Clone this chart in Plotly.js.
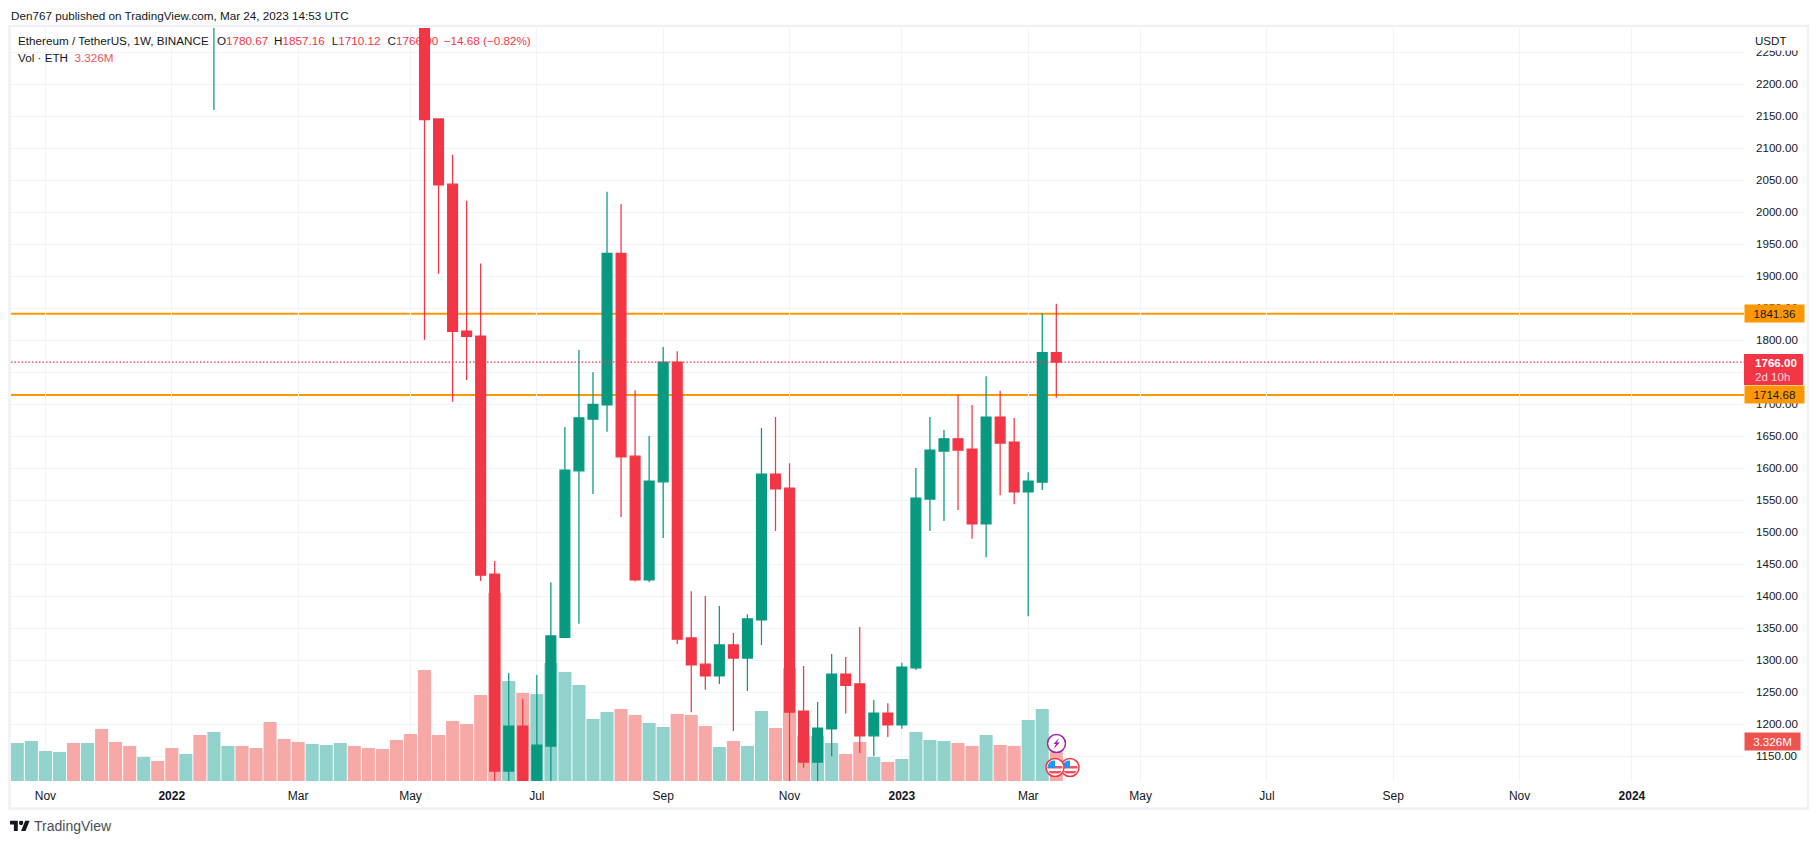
<!DOCTYPE html>
<html>
<head>
<meta charset="utf-8">
<script src="https://cdn.plot.ly/plotly-3.0.1.min.js"></script>
<style>html,body{margin:0;padding:0;background:#fff}#chart{width:1818px;height:844px}</style>
</head>
<body>
<div id="chart"></div>
<script>
// ---------- data ----------
const volumeDates = ["2021-10-18","2021-10-25","2021-11-01","2021-11-08","2021-11-15","2021-11-22","2021-11-29","2021-12-06","2021-12-13","2021-12-20","2021-12-27","2022-01-03","2022-01-10","2022-01-17","2022-01-24","2022-01-31","2022-02-07","2022-02-14","2022-02-21","2022-02-28","2022-03-07","2022-03-14","2022-03-21","2022-03-28","2022-04-04","2022-04-11","2022-04-18","2022-04-25","2022-05-02","2022-05-09","2022-05-16","2022-05-23","2022-05-30","2022-06-06","2022-06-13","2022-06-20","2022-06-27","2022-07-04","2022-07-11","2022-07-18","2022-07-25","2022-08-01","2022-08-08","2022-08-15","2022-08-22","2022-08-29","2022-09-05","2022-09-12","2022-09-19","2022-09-26","2022-10-03","2022-10-10","2022-10-17","2022-10-24","2022-10-31","2022-11-07","2022-11-14","2022-11-21","2022-11-28","2022-12-05","2022-12-12","2022-12-19","2022-12-26","2023-01-02","2023-01-09","2023-01-16","2023-01-23","2023-01-30","2023-02-06","2023-02-13","2023-02-20","2023-02-27","2023-03-06","2023-03-13","2023-03-20"];
const volumeValues = [3.24,3.41,2.56,2.47,3.24,3.24,4.44,3.33,2.99,2.05,1.71,2.81,2.30,3.92,4.18,2.99,2.99,2.81,5.03,3.58,3.33,3.16,3.07,3.24,2.99,2.81,2.73,3.50,4.01,9.47,3.92,5.12,4.86,7.34,16.03,8.53,7.51,7.42,10.07,9.30,8.19,5.29,5.89,6.14,5.63,4.95,4.61,5.71,5.63,4.69,2.90,3.41,2.99,5.97,4.52,9.64,3.84,3.84,3.24,2.30,3.33,2.05,1.62,1.88,4.18,3.50,3.41,3.24,2.99,3.92,3.07,2.99,5.20,6.14,3.326];
const volumeUp = ("GGGGRGRRRG"+"RRGRGGRRRR"+"RGGGRRRRRR"+"RRRRRGRGGG"+"GGGRRGGRRR"+"GRGGRRRGGR"+"RGRGGGGRRG"+"RRGGR").split("");

const candleDates = ["2022-01-24","2022-05-09","2022-05-16","2022-05-23","2022-05-30","2022-06-06","2022-06-13","2022-06-20","2022-06-27","2022-07-04","2022-07-11","2022-07-18","2022-07-25","2022-08-01","2022-08-08","2022-08-15","2022-08-22","2022-08-29","2022-09-05","2022-09-12","2022-09-19","2022-09-26","2022-10-03","2022-10-10","2022-10-17","2022-10-24","2022-10-31","2022-11-07","2022-11-14","2022-11-21","2022-11-28","2022-12-05","2022-12-12","2022-12-19","2022-12-26","2023-01-02","2023-01-09","2023-01-16","2023-01-23","2023-01-30","2023-02-06","2023-02-13","2023-02-20","2023-02-27","2023-03-06","2023-03-13","2023-03-20"];
const opens  = [2410,2400,2146,2044,1814.5,1806.7,1434.8,1127,1197,1074,1166,1336,1596,1677,1699,1936,1619,1425.5,1579,1766,1335,1294,1275.5,1324,1303.6,1363,1591,1569,1220.7,1141,1192.7,1278.6,1263,1182,1217.6,1199,1288,1552,1627,1646,1630,1513,1680,1641,1563,1578.6,1780.67];
const highs  = [2730,2450,2146,2090,2018,1920,1455,1280,1240,1277,1422,1664.5,1785,1750,2032,2013,1722,1650.5,1789.5,1783,1408,1400.5,1385,1342.6,1372,1663,1680,1608,1291,1235,1310,1305,1352,1238,1233,1296,1600.5,1680,1660,1714.5,1699,1744,1721,1678.6,1594,1842.7,1857.16];
const lows   = [2160,1801,1904,1704,1738,1424,880,1050,1000,1050,1006,1336,1357,1560,1657,1524,1423,1422,1491,1325.5,1219,1254,1263,1189.5,1252,1324,1502,1073,1132,1073,1150,1217,1155,1150,1180,1193,1285,1502,1517.6,1535,1490,1461,1558,1544,1369,1566,1710.12];
const closes = [2600,2145,2043,1814,1806,1433,1127,1197,1074,1167.6,1338,1597,1679,1700,1936,1618,1425.5,1580,1766,1333,1293,1275.5,1324,1303.6,1364.6,1591,1568,1219,1141,1194,1278.6,1261,1182,1217.6,1199,1289.5,1553.6,1628.6,1646,1628.6,1513,1680,1639.5,1563,1580,1780.67,1766];

const levelHigh = 1841.36, levelLow = 1714.68, lastPrice = 1766.00, lastVolume = 3.326;
const monthTickDates = ["2021-11-01","2022-01-03","2022-03-07","2022-05-02","2022-07-04","2022-09-05","2022-11-07","2023-01-02","2023-03-06","2023-05-01","2023-07-03","2023-09-04","2023-11-06","2024-01-01"];
const monthTickLabels = ["Nov","<b>2022</b>","Mar","May","Jul","Sep","Nov","<b>2023</b>","Mar","May","Jul","Sep","Nov","<b>2024</b>"];

// ---------- look ----------
const FONT = '"Liberation Sans", Arial, sans-serif';
const TXT = '#131722', UP = '#089981', DOWN = '#f23645', ORANGE = '#ff9800';
const VOLUP = '#92d2cc', VOLDOWN = '#f7a9a7', VOLLABEL = '#ef5350', GRID = '#f0f3fa';
const W = 1818, H = 844, L = 11, R = 1744, T = 28, B = 781;
const fx = p => (p - L) / (R - L);
const fy = p => (B - p) / (B - T);
const dateAt = p => new Date(Date.UTC(2023, 2, 20) + (p - 1056.3) / 2.0057 * 864e5).toISOString();
const volTop = 64.2;
const volAt = p => (B - p) * volTop / (B - T);

const svgUri = s => 'data:image/svg+xml;base64,' + btoa(s);
const flagSvg = svgUri('<svg xmlns="http://www.w3.org/2000/svg" viewBox="0 0 40 40"><defs><clipPath id="c"><circle cx="20" cy="20" r="15"/></clipPath></defs><circle cx="20" cy="20" r="18" fill="#fff" stroke="#f23645" stroke-width="3"/><g clip-path="url(#c)"><rect x="0" y="17" width="40" height="5" fill="#f7525f"/><rect x="0" y="27" width="40" height="5" fill="#f7525f"/><rect x="5" y="6" width="15" height="15" fill="#2196f3"/></g></svg>');
const boltSvg = svgUri('<svg xmlns="http://www.w3.org/2000/svg" viewBox="0 0 40 40"><circle cx="20" cy="20" r="18" fill="#fff" stroke="#9c27b0" stroke-width="3"/><path d="M25 9 L14 21 L19 21 L14 31 L27 18 L21 18 Z" fill="#9c27b0"/></svg>');
const logoSvg = svgUri('<svg xmlns="http://www.w3.org/2000/svg" viewBox="0 4 36 18"><path fill="#131722" d="M14 22H7V11H0V4h14v18zM28 22h-8l7.5-18h8L28 22z"/><circle cx="20" cy="8" r="4" fill="#131722"/></svg>');
const img = (src, x0, y0, x1, y1) => ({source: src, xref: 'paper', yref: 'paper', x: fx(x0), y: fy(y0), sizex: fx(x1) - fx(x0), sizey: fy(y0) - fy(y1), xanchor: 'left', yanchor: 'top', sizing: 'stretch', layer: 'above'});

const volumeTrace = {
  type: 'bar', x: volumeDates, y: volumeValues, xaxis: 'x', yaxis: 'y',
  marker: {color: volumeUp.map(c => c === 'G' ? VOLUP : VOLDOWN), line: {width: 0}},
  hoverinfo: 'skip'
};
const legendTrace = {
  type: 'scatter', mode: 'text', xaxis: 'x', yaxis: 'y', hoverinfo: 'skip', cliponaxis: false,
  x: [18, 217, 274, 331.7, 387.5, 443.7, 18].map(dateAt),
  y: [42.5, 42.5, 42.5, 42.5, 42.5, 42.5, 59.5].map(volAt),
  text: [
    'Ethereum / TetherUS, 1W, BINANCE',
    'O<span style="color:#f23645">1780.67</span>',
    'H<span style="color:#f23645">1857.16</span>',
    'L<span style="color:#f23645">1710.12</span>',
    'C<span style="color:#f23645">1766.00</span>',
    '<span style="color:#f23645">−14.68 (−0.82%)</span>',
    'Vol · ETH  <span style="color:#ef5350">3.326M</span>'
  ],
  textposition: 'middle right',
  textfont: {family: FONT, size: 11.7, color: TXT}
};
const candleTrace = {
  type: 'candlestick', x: candleDates, open: opens, high: highs, low: lows, close: closes,
  xaxis: 'x', yaxis: 'y2', hoverinfo: 'skip', whiskerwidth: 0,
  increasing: {line: {color: UP, width: 1.25}, fillcolor: UP},
  decreasing: {line: {color: DOWN, width: 1.25}, fillcolor: DOWN}
};

const label = (y, yref, text, bg, color, boxW) => ({
  xref: 'paper', x: 1, xanchor: 'left', yref: yref, y: y, yanchor: 'middle',
  text: text, showarrow: false, bgcolor: bg, width: boxW, height: 17, borderpad: 0, align: 'center',
  font: {family: FONT, size: 11.6, color: color}
});
const plain = (px, py, text, size, color) => ({
  xref: 'paper', yref: 'paper', x: fx(px), y: fy(py), xanchor: 'left', yanchor: 'middle',
  text: text, showarrow: false, borderpad: 0, font: {family: FONT, size: size, color: color}
});

const layout = {
  width: W, height: H, autosize: false, showlegend: false,
  paper_bgcolor: '#fff', plot_bgcolor: '#fff', bargap: 0.07, boxgap: 0.3, boxgroupgap: 0, boxmode: 'overlay',
  margin: {l: L, r: W - R, t: T, b: H - B, pad: 0},
  font: {family: FONT, color: TXT, size: 12},
  xaxis: {
    type: 'date', range: [dateAt(L), dateAt(R)], tickmode: 'array', tickvals: monthTickDates, ticktext: monthTickLabels,
    showgrid: true, gridcolor: GRID, gridwidth: 1, zeroline: false, showline: false, ticks: '',
    tickfont: {family: FONT, size: 12, color: TXT}, rangeslider: {visible: false}, fixedrange: true, automargin: false, ticklabelstandoff: 6
  },
  yaxis: {range: [0, volTop], visible: false, fixedrange: true, showgrid: false, zeroline: false},
  yaxis2: {
    overlaying: 'y', side: 'right', anchor: 'x', range: [1111.4, 2288], tick0: 1150, dtick: 50, tickformat: '.2f',
    showgrid: true, gridcolor: GRID, gridwidth: 1, zeroline: false, showline: false, ticks: '', fixedrange: true, automargin: false,
    tickfont: {family: FONT, size: 11.6, color: TXT}, ticklabelstandoff: 11
  },
  shapes: [
    {type: 'line', xref: 'paper', x0: 0, x1: 1, yref: 'y2', y0: levelHigh, y1: levelHigh, line: {color: ORANGE, width: 2}, layer: 'below'},
    {type: 'line', xref: 'paper', x0: 0, x1: 1, yref: 'y2', y0: levelLow, y1: levelLow, line: {color: ORANGE, width: 2}, layer: 'below'},
    {type: 'line', xref: 'paper', x0: 0, x1: 1, yref: 'y2', y0: lastPrice, y1: lastPrice, line: {color: DOWN, width: 1.2, dash: '1.5px,2px'}, layer: 'above'},
    {type: 'rect', xref: 'paper', yref: 'paper', x0: fx(1744), x1: fx(1803), y0: fy(354), y1: fy(385), fillcolor: DOWN, line: {width: 0}, layer: 'above'},
    {type: 'rect', xref: 'paper', yref: 'paper', x0: fx(1745), x1: fx(1803), y0: fy(29), y1: fy(50.5), fillcolor: '#fff', line: {width: 0}, layer: 'above'},
    {type: 'rect', xref: 'paper', yref: 'paper', x0: fx(9.5), x1: fx(1808), y0: fy(26), y1: fy(808.5), fillcolor: 'rgba(0,0,0,0)', line: {color: '#eff1f7', width: 2.5}, layer: 'above'}
  ],
  images: [
    img(flagSvg, 1060, 757.5, 1080, 777.5),
    img(flagSvg, 1045, 757.5, 1065, 777.5),
    img(boltSvg, 1046.5, 733.5, 1066.5, 753.5),
    img(logoSvg, 10, 820.5, 30, 831)
  ],
  annotations: [
    plain(10, 15, 'Den767 published on TradingView.com, Mar 24, 2023 14:53 UTC', 11.7, TXT),
    plain(33, 826, 'TradingView', 14, '#4a4e59'),
    label(levelHigh, 'y2', levelHigh.toFixed(2), ORANGE, TXT, 59),
    label(levelLow, 'y2', levelLow.toFixed(2), ORANGE, TXT, 59),
    plain(1754, 362, '<b>' + lastPrice.toFixed(2) + '</b>', 11.6, '#fff'),
    plain(1754, 376, '2d 10h', 11.6, '#fcd8db'),
    label(lastVolume, 'y', lastVolume.toFixed(3) + 'M', VOLLABEL, '#fff', 55),
    plain(1754, 40.5, 'USDT', 11.6, TXT)
  ]
};

Plotly.newPlot('chart', [volumeTrace, legendTrace, candleTrace], layout, {staticPlot: true, displayModeBar: false});
</script>
</body>
</html>
